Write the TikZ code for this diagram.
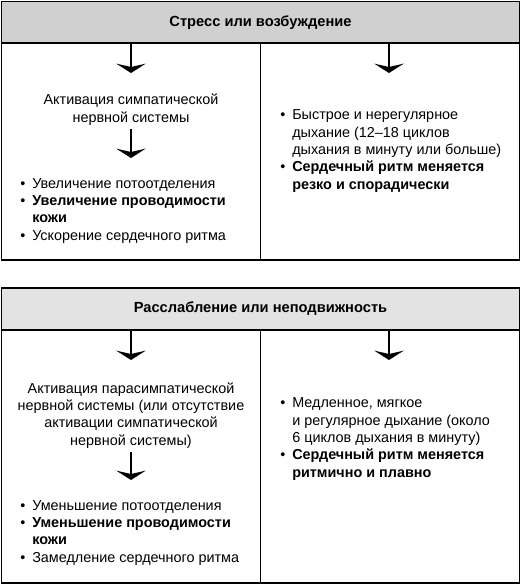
\documentclass[tikz,border=0pt]{standalone}
\usepackage{fontspec}
\setmainfont{Liberation Sans}
\usetikzlibrary{arrows.meta}
\definecolor{hdrgrayA}{HTML}{D0D0D0}
\definecolor{hdrgrayB}{HTML}{E3E3E3}
\newcommand{\bul}{\makebox[9pt][l]{•}}
\newcommand{\ind}{\hspace*{9pt}}

\begin{document}
\begin{tikzpicture}[x=0.75pt,y=-0.75pt,
  blk/.style={draw, line width=1.1pt, minimum width=388.5pt, inner sep=0},
  hdr/.style={draw, line width=1.1pt, minimum width=388.5pt, minimum height=31.2pt, font=\bfseries\fontsize{11}{13}\selectfont},
  txt/.style={inner sep=0, font=\fontsize{10.8}{13}\selectfont},
  arr/.style={line width=1.4pt, -{Stealth[length=7pt,width=22pt,inset=2.5pt]}}]
\useasboundingbox (0,0) rectangle (521,585);

% stress block
\node[blk, minimum height=193.9pt] (blkA) at (260.5,130.75) {};
\node[hdr, fill=hdrgrayA] (hdrA) at (260.5,22.25) {Стресс или возбуждение};
\draw[line width=1.1pt] (hdrA.south) -- (blkA.south);
\node[txt, align=center, anchor=base] (lftA) at (131,122) {Активация симпатической\\нервной системы};
\node[txt, align=left, anchor=base west] (bulA) at (20,240) {\bul Увеличение потоотделения\\
\bul\textbf{Увеличение проводимости}\\
\ind\textbf{кожи}\\
\bul Ускорение сердечного ритма};
\node[txt, align=left, anchor=base west] (rgtA) at (280,189) {\bul Быстрое и нерегулярное\\
\ind дыхание (12–18 циклов\\
\ind дыхания в минуту или больше)\\
\bul\textbf{Сердечный ритм меняется}\\
\ind\textbf{резко и спорадически}};
\coordinate (tipA1) at (131,73);
\coordinate (tipA2) at (389,73);
\coordinate (tipA3) at (131,158);
\draw[arr] (hdrA.south -| tipA1) -- (tipA1);
\draw[arr] (hdrA.south -| tipA2) -- (tipA2);
\draw[arr, shorten <=3pt] (lftA.south) -- (tipA3);

% relaxation block
\node[blk, minimum height=221.25pt] (blkB) at (260.5,435.5) {};
\node[hdr, fill=hdrgrayB] (hdrB) at (260.5,309) {Расслабление или неподвижность};
\draw[line width=1.1pt] (hdrB.south) -- (blkB.south);
\node[txt, align=center, anchor=base] (lftB) at (131,445) {Активация парасимпатической\\нервной системы (или отсутствие\\активации симпатической\\нервной системы)};
\node[txt, align=left, anchor=base west] (bulB) at (20,562) {\bul Уменьшение потоотделения\\
\bul\textbf{Уменьшение проводимости}\\
\ind\textbf{кожи}\\
\bul Замедление сердечного ритма};
\node[txt, align=left, anchor=base west] (rgtB) at (280,477) {\bul Медленное, мягкое\\
\ind и регулярное дыхание (около\\
\ind 6 циклов дыхания в минуту)\\
\bul\textbf{Сердечный ритм меняется}\\
\ind\textbf{ритмично и плавно}};
\coordinate (tipB1) at (131,360);
\coordinate (tipB2) at (389,360);
\coordinate (tipB3) at (131,480);
\draw[arr] (hdrB.south -| tipB1) -- (tipB1);
\draw[arr] (hdrB.south -| tipB2) -- (tipB2);
\draw[arr, shorten <=3pt] (lftB.south) -- (tipB3);
\end{tikzpicture}
\end{document}
